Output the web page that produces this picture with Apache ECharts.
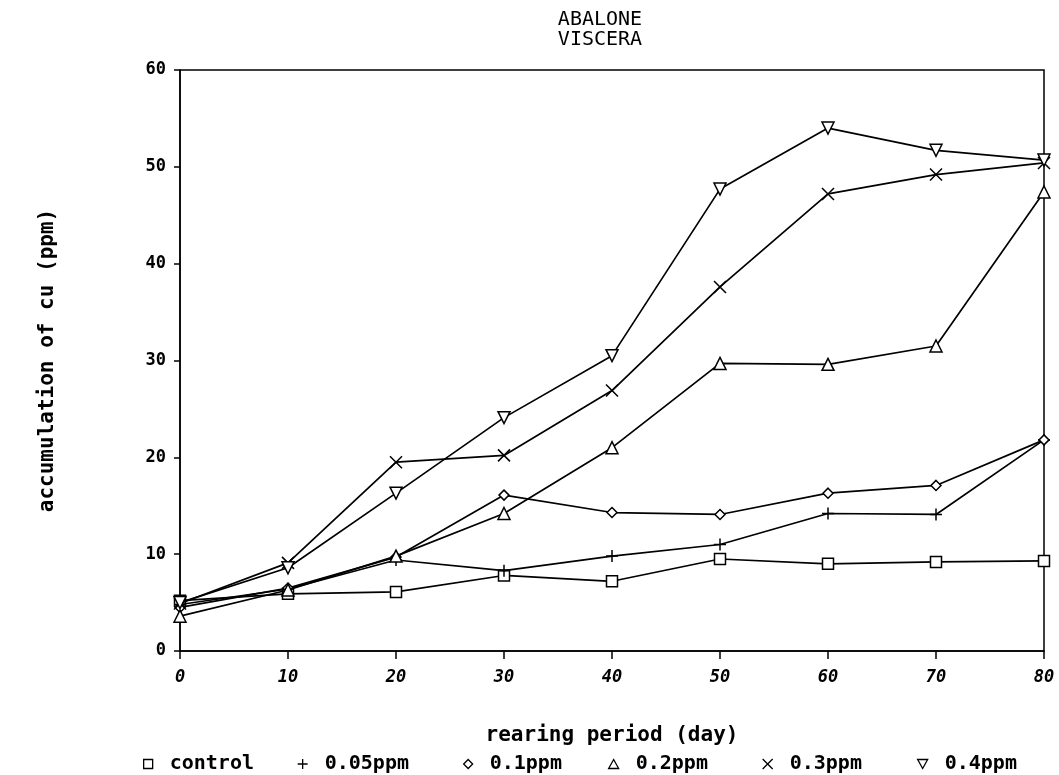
<!DOCTYPE html>
<html>
<head>
<meta charset="utf-8">
<script src="https://cdn.jsdelivr.net/npm/echarts@6/dist/echarts.min.js"></script>
<style>html,body{margin:0;padding:0;background:#fff;}#chart{width:1059px;height:775px;}</style>
</head>
<body>
<div id="chart"></div>
<script>
const days = [0, 10, 20, 30, 40, 50, 60, 70, 80];
const control = [5.2, 5.9, 6.1, 7.8, 7.2, 9.5, 9.0, 9.2, 9.3];
const ppm005 = [4.8, 6.4, 9.4, 8.3, 9.8, 11.0, 14.2, 14.1, 21.8];
const ppm01 = [4.5, 6.5, 9.7, 16.1, 14.3, 14.1, 16.3, 17.1, 21.8];
const ppm02 = [3.6, 6.3, 9.8, 14.2, 21.0, 29.7, 29.6, 31.5, 47.4];
const ppm03 = [4.9, 9.1, 19.5, 20.2, 26.9, 37.6, 47.2, 49.2, 50.4];
const ppm04 = [5.0, 8.6, 16.3, 24.1, 30.5, 47.7, 54.0, 51.7, 50.7];
const seriesNames = ['control', '0.05ppm', '0.1ppm', '0.2ppm', '0.3ppm', '0.4ppm'];
const xTicks = [0, 10, 20, 30, 40, 50, 60, 70, 80];
const yTicks = [0, 10, 20, 30, 40, 50, 60];

const FONT = 'DejaVu Sans Mono';
const plusPath = 'path://M5,0L5,10M0,5L10,5';
const crossPath = 'path://M0,0L10,10M10,0L0,10';
const downTri = 'path://M0,0L10,0L5,9Z';
const upTri = 'path://M5,0L10,9L0,9Z';
const symbols = ['rect', plusPath, 'diamond', upTri, crossPath, downTri];
const sizes = [11, 12, 10, 12, 12, 12];
const legendSizes = [9, 10, 9, 10, 10, 10];
const values = [control, ppm005, ppm01, ppm02, ppm03, ppm04];
const legendLeft = [138, 292, 458, 603, 757, 912];

const chart = echarts.init(document.getElementById('chart'));
const series = seriesNames.map((n, i) => ({
  name: n,
  type: 'line',
  data: days.map((d, j) => [d, values[i][j]]),
  symbol: symbols[i],
  symbolSize: sizes[i],
  showAllSymbol: true,
  lineStyle: { color: '#000', width: 1.7 },
  itemStyle: { color: '#fff', borderColor: '#000', borderWidth: 1.5 },
  emphasis: { disabled: true },
  z: 2 + i
}));

chart.setOption({
  animation: false,
  backgroundColor: '#fff',
  title: {
    text: 'ABALONE\nVISCERA',
    left: 595,
    top: 5,
    textAlign: 'center',
    textStyle: { fontFamily: FONT, fontSize: 20, fontWeight: 'normal', color: '#000', lineHeight: 20 }
  },
  legend: seriesNames.map((n, i) => ({
    data: [{ name: n, icon: symbols[i] }],
    left: legendLeft[i],
    top: 749,
    itemWidth: legendSizes[i],
    itemHeight: legendSizes[i],
    formatter: ' {name}',
    itemStyle: { color: '#fff', borderColor: '#000', borderWidth: 1.3 },
    lineStyle: { width: 0, opacity: 0 },
    textStyle: { fontFamily: FONT, fontSize: 20, fontWeight: 'bold', color: '#000' },
    selectedMode: false
  })),
  grid: {
    left: 180, right: 15, top: 70, bottom: 124,
    show: true, borderColor: '#000', borderWidth: 1.5, backgroundColor: 'transparent'
  },
  xAxis: {
    type: 'value', min: xTicks[0], max: xTicks[xTicks.length - 1], interval: 10,
    name: 'rearing period (day)', nameLocation: 'middle', nameGap: 74,
    nameTextStyle: { fontFamily: FONT, fontSize: 21, fontWeight: 'bold', color: '#000' },
    axisLine: { lineStyle: { color: '#000', width: 1.5 } },
    axisTick: { show: true, length: 8, inside: false, lineStyle: { color: '#000', width: 1.5 } },
    axisLabel: { fontFamily: FONT, fontSize: 17, fontWeight: 'bold', fontStyle: 'italic', color: '#000', margin: 18 },
    splitLine: { show: false }
  },
  yAxis: {
    type: 'value', min: yTicks[0], max: yTicks[yTicks.length - 1], interval: 10,
    name: 'accumulation of cu (ppm)', nameLocation: 'middle', nameGap: 122,
    nameTextStyle: { fontFamily: FONT, fontSize: 21, fontWeight: 'bold', color: '#000' },
    axisLine: { lineStyle: { color: '#000', width: 1.5 } },
    axisTick: { show: true, length: 6, inside: false, lineStyle: { color: '#000', width: 1.5 } },
    axisLabel: { fontFamily: FONT, fontSize: 17, fontWeight: 'bold', color: '#000', margin: 14 },
    splitLine: { show: false }
  },
  series: series
});
</script>
</body>
</html>
